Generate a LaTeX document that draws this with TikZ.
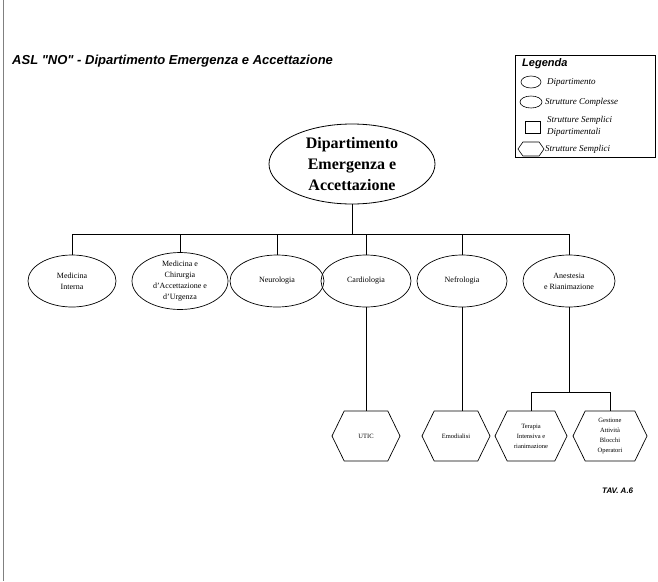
\documentclass[tikz,border=0pt]{standalone}
\usepackage{fontspec}
\setmainfont{Liberation Serif}
\newfontfamily\ttlfont{Liberation Sans}
\usetikzlibrary{shapes.geometric,shapes.symbols}
\tikzset{
  dept/.style={ellipse, draw, line width=0.8pt, inner sep=0pt, minimum width=166pt, minimum height=80pt, align=center, font=\fontsize{16}{21}\selectfont\bfseries},
  sc/.style={ellipse, draw, line width=0.7pt, inner sep=0pt, minimum width=90pt, minimum height=52pt, align=center, font=\fontsize{8}{11}\selectfont},
  ss/.style={signal, signal to=west and east, signal pointer angle=128, draw, line width=0.7pt, inner sep=0pt, minimum width=68pt, minimum height=50pt, align=center, font=\fontsize{6.5}{10}\selectfont},
  conn/.style={draw, line width=0.5pt},
  legtxt/.style={anchor=west, inner sep=0pt, align=left, font=\fontsize{9}{12}\selectfont\itshape},
  legsym/.style={draw, line width=0.6pt, inner sep=0pt}
}
\begin{document}
\begin{tikzpicture}[x=1pt,y=-1pt]
\useasboundingbox (0,0) rectangle (658,581);
\fill[white] (0,0) rectangle (658,581);
\draw[gray, line width=0.8pt] (3,0) -- (3,581);

% title
\node[anchor=west, inner sep=0pt, font=\ttlfont\bfseries\itshape\fontsize{13}{15}\selectfont] (title) at (12,61) {ASL "NO" - Dipartimento Emergenza e Accettazione};

% legend
\draw[line width=0.6pt] (515,55) rectangle (655,157);
\node[anchor=west, inner sep=0pt, font=\ttlfont\bfseries\itshape\fontsize{11}{13}\selectfont] (legtitle) at (522,64) {Legenda};
\node[legsym, ellipse, minimum width=20pt, minimum height=12pt] (lg1) at (531,82) {};
\node[legtxt] (lt1) at (547,82) {Dipartimento};
\node[legsym, ellipse, minimum width=22pt, minimum height=12pt] (lg2) at (531,102) {};
\node[legtxt] (lt2) at (545,102) {Strutture Complesse};
\node[legsym, rectangle, minimum width=15pt, minimum height=12pt] (lg3) at (533,127) {};
\node[legtxt] (lt3) at (547,126) {Strutture Semplici\\Dipartimentali};
\node[legsym, signal, signal to=west and east, signal pointer angle=110, minimum width=26pt, minimum height=14pt] (lg4) at (531,149) {};
\node[legtxt] (lt4) at (545,149) {Strutture Semplici};

% main department
\node[dept] (dea) at (352,164) {Dipartimento\\Emergenza e\\Accettazione};

% complex structures
\node[sc, minimum width=88pt] (mi) at (72,281) {Medicina\\Interna};
\node[sc, minimum width=96pt] (mc) at (180,281) {Medicina e\\Chirurgia\\d'Accettazione e\\d'Urgenza};
\node[sc, minimum width=94pt] (ne) at (277,281) {Neurologia};
\node[sc] (ca) at (366,281) {Cardiologia};
\node[sc] (nf) at (462,281) {Nefrologia};
\node[sc, minimum width=92pt] (an) at (569,281) {Anestesia\\e Rianimazione};

% bus
\coordinate (b1) at (352,234);
\draw[conn] (dea.south) -- (b1);
\foreach \n in {mi,mc,ne,ca,nf,an} { \draw[conn] (b1) -| (\n.north); }

% simple structures
\node[ss] (ut) at (366,436) {UTIC};
\node[ss] (em) at (456,436) {Emodialisi};
\node[ss, minimum width=72pt] (ti) at (531,436) {Terapia\\Intensiva e\\rianimazione};
\node[ss, minimum width=74pt] (ga) at (610,436) {Gestione\\Attività\\Blocchi\\Operatori};

\draw[conn] (ca.south) -- (ca.south |- ut.north);
\draw[conn] (nf.south) -- (nf.south |- em.north);
\coordinate (b2) at (569,392);
\draw[conn] (an.south) -- (b2);
\draw[conn] (b2) -| (ti.north);
\draw[conn] (b2) -| (ga.north);

\node[anchor=west, inner sep=0pt, font=\ttlfont\bfseries\itshape\fontsize{8}{10}\selectfont] (tav) at (602,491) {TAV. A.6};
\end{tikzpicture}
\end{document}
